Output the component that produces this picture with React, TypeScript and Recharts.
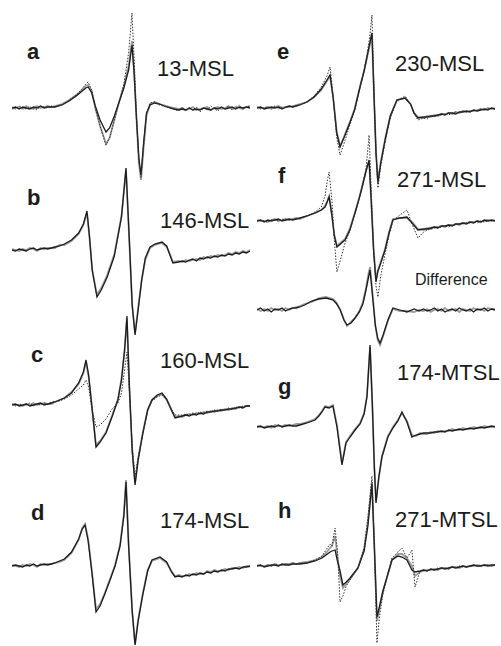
import { LineChart, Line, XAxis, YAxis } from "recharts";

// field axis in arbitrary units (0-100 across each trace), intensity in a.u. (0 = baseline)
// every trace shares the noisy wings sampling, the middle part is sampled per spectrum
const leftWing = [0, 1.5, 3, 4.5, 6, 7.5, 9, 10.5, 12, 13.5, 15, 16.5];
const rightWing = [70, 71.5, 73, 74.5, 76, 77.5, 79, 80.5, 82, 83.5, 85, 86.5, 88, 89.5, 91, 92.5, 94, 95.5, 97, 98.5, 100];

// a: 13-MSL
const aMid = [18, 21, 24, 27, 29, 31, 32, 33.5, 35, 37, 39.5, 41, 43, 45, 47, 49, 50.4, 51.3, 52.3, 53.3, 54.2, 55.3, 56.5, 58, 60, 62, 65, 68];
const aSolid = [
  0, 1, -1, 1, 0, -1, 1, 0, 2, 0, 1, 1,
  1, 3, 7, 12, 16, 20, 21, 15, 2, -12, -24, -20, -8, 6, 20, 38, 63, 35, -10, -50, -67, -35, -5, 3, 5, 4, 1, -1,
  -2, -1, -2, 0, -2, -1, -2, 0, -1, -2, 0, -1, 1, -1, 0, 1, -1, 1, 0, 1, 0,
];
const aGrey = [
  -1, 0, 1, -1, 2, 0, -1, 2, 0, 1, 2, 1,
  2, 4, 8, 13, 17, 22, 23, 17, 0, -18, -36, -30, -12, 6, 22, 42, 67, 38, -10, -55, -72, -40, -8, 4, 6, 4, 2, 0,
  -1, 0, -2, -1, 1, -2, -1, 0, 1, -2, 0, 1, -1, 0, 2, -1, 1, 0, -1, 1, 2,
];
const aDot = [
  1, -1, 2, 0, -1, 1, 0, -2, 2, 1, 0, 2,
  1, 3, 8, 13, 18, 24, 26, 18, 0, -18, -37, -30, -12, 6, 24, 55, 95, 50, -10, -52, -70, -38, -6, 5, 6, 3, 1, -1,
  -3, 1, -3, 0, -2, 1, -4, 0, -2, 2, -1, -3, 1, -1, 2, -2, 0, 3, -1, 1, 2,
];

// b: 146-MSL
const bMid = [18, 20, 22, 25, 28, 30, 31.5, 32.5, 33.7, 35.7, 37.5, 40, 43, 46, 47.9, 49.3, 50.5, 51.7, 53, 54.5, 56, 58, 60, 63, 65, 66.5, 67.6];
const bSolid = [
  0, -1, 1, 0, -1, 1, 2, 0, 1, 2, 1, 2,
  3, 4, 6, 10, 17, 26, 39, 15, -20, -47, -40, -27, -6, 33, 82, 10, -55, -85, -60, -30, -8, 3, 6, 8, 4, -6, -13,
  -12, -11, -12, -10, -9, -11, -8, -9, -7, -8, -6, -7, -5, -6, -4, -5, -3, -4, -2, -3, -1,
];
const bGrey = [
  1, 0, -1, 1, 0, 2, 1, -1, 2, 1, 2, 2,
  2, 5, 5, 9, 16, 25, 37, 14, -20, -45, -38, -25, -4, 34, 80, 8, -55, -83, -58, -30, -10, 2, 5, 7, 3, -5, -12,
  -11, -12, -10, -11, -10, -9, -10, -7, -8, -6, -7, -5, -6, -5, -3, -4, -2, -3, -1, -2, 0,
];

// c: 160-MSL
const cMid = [18, 20, 22, 25, 28, 30, 31.1, 32.2, 33.5, 35.3, 37, 39.5, 42, 44.5, 46, 47.3, 48.3, 49.3, 50.5, 51.7, 53, 55, 57, 58.8, 61, 63, 65, 67, 68.5];
const cSolid = [
  0, 1, -1, 0, 1, -1, 0, 1, 2, 0, 1, 2,
  3, 5, 7, 12, 22, 33, 45, 30, 0, -42, -37, -28, -12, 5, 25, 55, 89, 20, -45, -80, -55, -28, -5, 5, 10, 12, 6, -5, -13,
  -12, -11, -10, -11, -9, -10, -8, -9, -7, -7, -6, -6, -5, -5, -4, -4, -3, -2, -3, -1, -1,
];
const cGrey = [
  1, 0, 0, -1, 1, 0, 2, 0, 1, 2, 1, 1,
  3, 5, 7, 13, 21, 32, 43, 28, 0, -40, -36, -27, -11, 6, 26, 54, 86, 18, -45, -78, -54, -27, -5, 5, 9, 11, 5, -5, -12,
  -11, -12, -10, -9, -10, -8, -9, -7, -8, -6, -7, -5, -6, -4, -5, -3, -4, -2, -2, -1, -1,
];
const cDot = [
  1, -1, 1, 0, 0, 2, -1, 1, 0, 2, 1, 3,
  3, 4, 6, 10, 16, 20, 25, 18, -3, -22, -20, -14, -4, 2, 12, 35, 53, 15, -40, -72, -52, -28, -6, 4, 8, 10, 5, -4, -10,
  -10, -10, -9, -10, -8, -9, -7, -8, -6, -7, -5, -6, -4, -5, -3, -4, -2, -3, -1, -1, 0,
];

// d: 174-MSL
const dMid = [18, 20, 22, 25, 28, 29.5, 30.7, 32, 33.5, 35.3, 37, 39, 41.5, 43.3, 45.4, 47, 47.9, 49, 50.5, 51.7, 53, 55, 57, 58.8, 62.2, 65, 67, 68.5];
const dSolid = [
  0, 1, 0, -1, 1, 0, 2, 0, 1, 2, 1, 2,
  3, 5, 7, 14, 27, 37, 41, 25, -5, -46, -40, -28, -12, 0, 20, 50, 84, 20, -45, -79, -55, -28, -5, 6, 9, 4, -6, -11,
  -10, -11, -9, -10, -8, -9, -7, -8, -6, -7, -5, -6, -4, -5, -3, -3, -2, -3, -1, -1, 0,
];
const dGrey = [
  1, 0, -1, 1, 0, 2, 1, -1, 2, 1, 2, 2,
  3, 4, 6, 13, 26, 38, 42, 27, -3, -43, -38, -27, -11, 1, 21, 52, 86, 22, -45, -78, -54, -27, -4, 5, 8, 3, -5, -10,
  -9, -10, -10, -8, -9, -7, -8, -8, -5, -6, -4, -5, -5, -3, -4, -2, -2, -1, -2, 0, -1,
];

// e: 230-MSL
const eMid = [18, 21, 24, 27, 29.4, 30.7, 32, 33.5, 34.9, 36.5, 39, 41, 43.3, 45, 46.2, 47.4, 48.3, 49.2, 50, 50.8, 52, 54, 56, 58.8, 62.2, 64.5, 66, 67.6];
const eSolid = [
  0, 1, -1, 0, 1, 0, 1, -1, 1, 2, 1, 2,
  3, 6, 11, 19, 28, 33, 10, -25, -39, -30, -15, -2, 21, 37, 51, 65, 75, 10, -45, -75, -55, -30, -8, 8, 10, 4, -5, -10,
  -9, -9, -8, -8, -7, -6, -7, -5, -5, -6, -4, -4, -3, -4, -2, -3, -2, -1, -2, 0, -1,
];
const eGrey = [
  1, 0, 0, 1, -1, 1, 2, 0, 1, 1, 2, 3,
  4, 6, 11, 18, 27, 32, 11, -24, -38, -29, -14, -1, 22, 37, 50, 63, 73, 10, -44, -73, -54, -29, -8, 8, 10, 4, -5, -9,
  -10, -8, -9, -7, -8, -6, -6, -5, -6, -4, -5, -3, -4, -3, -3, -2, -1, -2, 0, -1, 0,
];
const eDot = [
  1, -1, 0, 1, 0, 2, -1, 1, 0, 2, 1, 2,
  3, 6, 12, 21, 32, 41, 12, -30, -47, -36, -17, -3, 21, 38, 53, 72, 93, 15, -45, -80, -58, -32, -10, 7, 12, 4, -6, -12,
  -10, -11, -8, -9, -7, -7, -6, -7, -5, -4, -5, -3, -4, -3, -2, -3, -1, -2, -1, 0, -1,
];

// f: 271-MSL
const fMid = [18, 21, 24.4, 27, 28.6, 29.5, 30.3, 31.5, 32.5, 33.6, 35.5, 37, 39, 41.2, 43, 44.1, 45.8, 47.1, 48, 49, 50, 50.8, 52, 53.8, 55.5, 57.1, 60, 63, 65.5, 67.6];
const fSolid = [
  0, 1, -1, 1, 0, 1, 2, 0, 1, 2, 1, 2,
  3, 5, 8, 11, 14, 19, 24, 5, -15, -26, -22, -19, -9, 8, 23, 33, 50, 61, 20, -30, -61, -50, -42, -29, -12, 1, 3, 4, -3, -9,
  -8, -8, -7, -6, -7, -5, -5, -4, -5, -3, -3, -2, -3, -1, -2, 0, -1, 1, 0, 1, 0,
];
const fGrey = [
  1, 0, 0, -1, 1, 2, 0, 1, 2, 1, 2, 3,
  2, 5, 8, 11, 15, 20, 25, 6, -14, -25, -21, -18, -8, 9, 24, 34, 50, 60, 20, -28, -58, -50, -41, -28, -11, 2, 3, 3, -2, -8,
  -9, -7, -8, -6, -6, -5, -6, -4, -4, -3, -4, -2, -2, -1, -1, 0, -1, 0, 1, 0, 1,
];
const fDot = [
  0, 1, 0, -1, 1, 1, 0, 2, 1, 1, 2, 2,
  3, 5, 9, 14, 25, 40, 49, 20, -20, -51, -35, -22, -10, 8, 23, 34, 52, 86, 30, -30, -65, -76, -55, -33, -14, 0, 6, 11, -5, -17,
  -11, -9, -8, -7, -7, -6, -5, -6, -4, -4, -3, -3, -2, -2, -1, -2, 0, -1, 0, 1, 0,
];

// f (lower): difference spectrum
const xMid = [18, 20, 23, 26, 29, 32, 33.5, 35, 36.5, 37.8, 39.5, 41.2, 43, 44.5, 45.8, 46.8, 47.5, 48.5, 49.7, 50.7, 51.7, 53, 55, 57.1, 60, 63, 66, 68];
const xSolid = [
  0, 2, -1, 1, -2, 1, 0, 2, -1, 1, 2, 2,
  3, 5, 9, 11, 12, 10, 6, 0, -10, -15, -13, -8, -2, 6, 20, 32, 40, 15, -15, -28, -33, -25, -10, 2, 0, -2, 1, -1,
  1, -1, 0, 2, -1, 1, -2, 0, 1, -1, 2, 0, -1, 1, -2, 1, 0, 2, -1, 1, 0,
];
const xGrey = [
  1, -1, 1, -1, 2, 0, 1, -1, 2, 0, 2, 3,
  4, 6, 8, 12, 13, 11, 7, 0, -9, -16, -12, -8, -1, 8, 22, 36, 43, 18, -15, -30, -35, -26, -11, 1, -1, -1, -2, 0,
  -1, 1, -2, 0, 1, -1, 2, -1, 0, 1, -2, 1, 0, -1, 2, 0, 1, -1, 2, 1, 1,
];

// g: 174-MTSL
const gMid = [18, 21, 24.4, 26, 27.3, 28.6, 30.3, 31.9, 33.6, 35.7, 37.4, 39.1, 41.2, 43.3, 45, 46.2, 47.5, 48.5, 49.3, 50, 51.2, 52.5, 55, 57.1, 59.2, 60.9, 63, 65.1, 66.8, 68.5];
const gSolid = [
  0, 1, -1, 0, 1, 0, 2, 0, 1, 2, 1, 1,
  2, 4, 7, 11, 15, 20, 19, 21, 0, -38, -16, -10, -3, 3, 13, 30, 82, 20, -40, -76, -50, -30, -10, -1, 6, 15, 5, -10, -8, -7,
  -6, -6, -6, -5, -5, -4, -5, -3, -4, -3, -2, -3, -2, -1, -2, -1, 0, -1, 0, 1, 0,
];
const gGrey = [
  1, 0, 0, 1, -1, 2, 1, 1, 2, 1, 2, 3,
  3, 5, 8, 12, 16, 21, 20, 22, 2, -36, -15, -9, -2, 4, 14, 31, 80, 20, -40, -74, -50, -29, -9, 0, 7, 14, 6, -8, -9, -6,
  -7, -7, -5, -6, -4, -5, -4, -4, -2, -3, -3, -1, -2, -2, 0, -1, -1, 1, 0, 0, 1,
];

// h: 271-MTSL
const hMid = [18, 21, 24.4, 27.3, 29, 30.7, 31.5, 32.8, 33.8, 34.9, 36.1, 37.5, 39.1, 42.4, 45, 46.6, 48.3, 49.3, 50.4, 51.5, 52.9, 55, 56.7, 59.2, 60.9, 63, 65.1, 66.4, 68.5];
const hSolid = [
  0, 1, -1, 0, 1, 1, 0, 2, 1, 1, 2, 2,
  2, 3, 5, 8, 11, 14, 15, 16, 5, -5, -19, -16, -12, -2, 15, 40, 82, 20, -51, -40, -25, -8, 6, 10, 9, 6, -4, -6, -5,
  -4, -5, -3, -4, -3, -2, -3, -2, -1, -2, -1, 0, -1, 0, 1, 0, 0, 1, 0, 1, 1,
];
const hGrey = [
  1, 0, 0, 1, 0, 2, 1, 1, 2, 2, 3, 2,
  3, 4, 6, 9, 13, 18, 20, 30, 10, -10, -22, -18, -13, -2, 17, 45, 84, 20, -55, -42, -26, -8, 6, 12, 12, 8, 0, -10, -6,
  -5, -4, -4, -3, -4, -2, -2, -3, -1, -1, -2, 0, -1, 0, 0, 1, 0, 1, 1, 0, 1,
];
const hDot = [
  0, 1, -1, 1, 0, 2, 0, 1, 2, 1, 3, 2,
  3, 3, 6, 10, 16, 22, 20, 38, 15, -36, -30, -20, -14, -2, 18, 48, 90, 20, -77, -50, -28, -8, 8, 14, 18, 8, 16, -21, -5,
  -4, -5, -3, -4, -2, -3, -2, -3, -1, -2, 0, -1, 0, -1, 1, 0, 1, 0, 1, 0, 1,
];

const TRACE_W = 238;
const YMAX = 120;
const INK = "#1c1c1c";
const FONT = "'Liberation Sans', Arial, Helvetica, sans-serif";

type TraceProps = {
  left: number;
  baseline: number;
  mid: number[];
  solid: number[];
  grey?: number[];
  dot?: number[];
};

const Trace = ({ left, baseline, mid, solid, grey, dot }: TraceProps) => {
  const field = [...leftWing, ...mid, ...rightWing];
  const rows = field.map((f, i) => ({
    f,
    solid: solid[i],
    grey: grey ? grey[i] : null,
    dot: dot ? dot[i] : null,
  }));
  return (
    <div style={{ position: "absolute", left, top: baseline - YMAX }}>
      <LineChart width={TRACE_W} height={YMAX * 2} data={rows} margin={{ top: 0, right: 0, bottom: 0, left: 0 }}>
        <XAxis type="number" dataKey="f" domain={[0, 100]} hide />
        <YAxis type="number" domain={[-YMAX, YMAX]} hide />
        {grey && (
          <Line type="linear" dataKey="grey" stroke="#9c9c9c" strokeWidth={1.8} dot={false} activeDot={false} isAnimationActive={false} />
        )}
        <Line type="linear" dataKey="solid" stroke={INK} strokeWidth={1.3} dot={false} activeDot={false} isAnimationActive={false} />
        {dot && (
          <Line type="linear" dataKey="dot" stroke="#333" strokeWidth={1} strokeDasharray="1.5 1.5" dot={false} activeDot={false} isAnimationActive={false} />
        )}
      </LineChart>
    </div>
  );
};

const letters = [
  { t: "a", x: 27, y: 59 },
  { t: "b", x: 27, y: 205 },
  { t: "c", x: 31, y: 362 },
  { t: "d", x: 31, y: 520 },
  { t: "e", x: 277, y: 59 },
  { t: "f", x: 278, y: 183 },
  { t: "g", x: 278, y: 394 },
  { t: "h", x: 278, y: 518 },
];

const names = [
  { t: "13-MSL", x: 157, y: 76 },
  { t: "146-MSL", x: 160, y: 228 },
  { t: "160-MSL", x: 160, y: 368 },
  { t: "174-MSL", x: 160, y: 528 },
  { t: "230-MSL", x: 395, y: 71 },
  { t: "271-MSL", x: 397, y: 187 },
  { t: "174-MTSL", x: 397, y: 380 },
  { t: "271-MTSL", x: 395, y: 527 },
];

export default function App() {
  return (
    <div style={{ position: "absolute", left: 0, top: 0, width: 501, height: 646, background: "#fff", overflow: "hidden" }}>
      <Trace left={12} baseline={108} mid={aMid} solid={aSolid} grey={aGrey} dot={aDot} />
      <Trace left={12} baseline={250} mid={bMid} solid={bSolid} grey={bGrey} />
      <Trace left={12} baseline={405} mid={cMid} solid={cSolid} grey={cGrey} dot={cDot} />
      <Trace left={12} baseline={566} mid={dMid} solid={dSolid} grey={dGrey} />
      <Trace left={257} baseline={108} mid={eMid} solid={eSolid} grey={eGrey} dot={eDot} />
      <Trace left={257} baseline={221} mid={fMid} solid={fSolid} grey={fGrey} dot={fDot} />
      <Trace left={257} baseline={310} mid={xMid} solid={xSolid} grey={xGrey} />
      <Trace left={257} baseline={427} mid={gMid} solid={gSolid} grey={gGrey} />
      <Trace left={257} baseline={566} mid={hMid} solid={hSolid} grey={hGrey} dot={hDot} />
      <svg width={501} height={646} style={{ position: "absolute", left: 0, top: 0, pointerEvents: "none" }}>
        {letters.map((l) => (
          <text key={l.t} x={l.x} y={l.y} fontFamily={FONT} fontWeight="bold" fontSize={22} fill={INK}>
            {l.t}
          </text>
        ))}
        {names.map((n) => (
          <text key={n.t} x={n.x} y={n.y} fontFamily={FONT} fontSize={22} fill={INK}>
            {n.t}
          </text>
        ))}
        <text x={415} y={285} fontFamily={FONT} fontSize={16} fill={INK}>
          Difference
        </text>
      </svg>
    </div>
  );
}
